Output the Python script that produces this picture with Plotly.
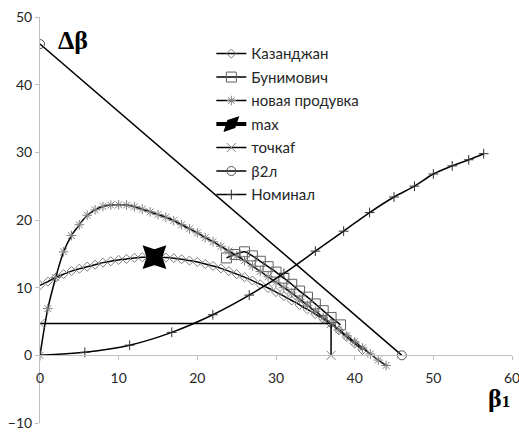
import plotly.graph_objects as go

# ---- data ----
kaz_x = list(range(0, 42))
kaz_y = [10.35, 10.9, 11.5, 12.0, 12.45, 12.8, 13.1, 13.4, 13.7, 13.9, 14.1, 14.25, 14.4, 14.5,
         14.5, 14.5, 14.45, 14.35, 14.2, 14.0, 13.8, 13.5, 13.2, 12.85, 12.45, 12.0, 11.55, 11.05,
         10.5, 9.95, 9.35, 8.75, 8.1, 7.45, 6.8, 6.1, 5.4, 4.7, 3.7, 2.7, 1.75, 0.8]

bun_x = [23.7, 24.8, 26.0, 27.0, 28.0, 29.0, 30.0, 31.0, 32.0, 33.0, 34.0, 35.0, 36.0, 37.0, 38.2]
bun_y = [14.4, 14.9, 15.3, 14.7, 13.9, 13.1, 12.3, 11.4, 10.5, 9.5, 8.6, 7.6, 6.6, 5.6, 4.5]

new_x = list(range(0, 45))
new_y = [0.0, 6.9, 11.5, 15.3, 17.7, 19.3, 20.7, 21.5, 22.0, 22.2, 22.25, 22.2, 21.95, 21.6, 21.2,
         20.8, 20.4, 19.9, 19.3, 18.7, 18.1, 17.4, 16.8, 16.1, 15.4, 14.7, 14.0, 13.2, 12.4, 11.6,
         10.8, 10.0, 9.2, 8.3, 7.4, 6.5, 5.6, 4.7, 3.8, 2.9, 2.0, 1.1, 0.2, -0.7, -1.5]

max_x = [14.55]
max_y = [14.5]

f_x = [0, 37, 37]
f_y = [4.7, 4.7, 0]

b2_x = [0, 46]
b2_y = [46, 0]

nom_x = [0, 5.7, 11.4, 16.75, 21.97, 26.6, 31.0, 35.0, 38.6, 41.9, 45.0, 47.6, 50.0, 52.4, 54.5, 56.4]
nom_y = [0, 0.44, 1.5, 3.4, 6.0, 8.9, 12.1, 15.4, 18.35, 21.1, 23.4, 25.0, 26.8, 28.0, 28.9, 29.8]

x_ticks = [0, 10, 20, 30, 40, 50, 60]
y_ticks = [-10, 0, 10, 20, 30, 40, 50]

# ---- figure ----
fig = go.Figure()
LC = "black"
MC = "#7f7f7f"

fig.add_trace(go.Scatter(x=kaz_x, y=kaz_y, name="Казанджан", mode="lines+markers", legendgroup="a",
                         line=dict(color=LC, width=1.5, shape="spline"),
                         marker=dict(symbol="diamond-open", size=7, color=MC, line=dict(width=1, color=MC))))
fig.add_trace(go.Scatter(x=bun_x, y=bun_y, name="Бунимович", mode="lines+markers", legendgroup="b",
                         line=dict(color=LC, width=1.5, shape="spline"),
                         marker=dict(symbol="square-open", size=10, color="#606060", line=dict(width=1, color="#606060"))))
fig.add_trace(go.Scatter(x=new_x, y=new_y, name="новая продувка", mode="lines+markers", legendgroup="c",
                         line=dict(color=LC, width=1.5, shape="spline"),
                         marker=dict(symbol="asterisk-open", size=8, color=MC, line=dict(width=1, color=MC))))
fig.add_trace(go.Scatter(x=max_x, y=max_y, name="max", mode="lines+markers", legendgroup="d",
                         line=dict(color=LC, width=4),
                         marker=dict(symbol="diamond-tall", size=24, angle=45, color="black")))
fig.add_trace(go.Scatter(x=max_x, y=max_y, name="max", mode="markers", showlegend=False, legendgroup="d",
                         marker=dict(symbol="diamond-tall", size=24, angle=-45, color="black")))
fig.add_trace(go.Scatter(x=f_x, y=f_y, name="точкаf", mode="lines+markers", legendgroup="e",
                         line=dict(color=LC, width=1.5),
                         marker=dict(symbol="x-thin-open", size=9, color=MC, line=dict(width=1, color=MC))))
fig.add_trace(go.Scatter(x=b2_x, y=b2_y, name="β2л", mode="lines+markers", legendgroup="f",
                         line=dict(color=LC, width=1.5),
                         marker=dict(symbol="circle-open", size=9, color="#505050", line=dict(width=1, color="#505050"))))
fig.add_trace(go.Scatter(x=nom_x, y=nom_y, name="Номинал", mode="lines+markers", legendgroup="g",
                         line=dict(color=LC, width=1.5, shape="spline"),
                         marker=dict(symbol="cross-thin-open", size=7, color="#303030", line=dict(width=1, color="#303030"))))

fig.add_annotation(x=4.2, y=46.6, xref="x", yref="y", text="<b>Δβ</b>", showarrow=False,
                   font=dict(family="Liberation Serif", size=26, color="black"))
fig.add_annotation(x=1.0, y=-6.4, xref="paper", yref="y", xanchor="right",
                   text="<b>β<span style='font-size:17px'>1</span></b>",
                   showarrow=False, font=dict(family="Liberation Serif", size=26, color="black"))

fig.update_layout(
    template="none",
    width=519, height=432,
    margin=dict(l=40, r=7, t=17, b=9),
    paper_bgcolor="white", plot_bgcolor="white",
    font=dict(family="Lato", size=14, color="#262626"),
    showlegend=True,
    legend=dict(x=0.363, y=0.95, xanchor="left", yanchor="top", bgcolor="rgba(0,0,0,0)",
                font=dict(family="Lato", size=15, color="#262626"), itemwidth=30, tracegroupgap=1),
    xaxis=dict(range=[0, 60], tickvals=x_ticks, showgrid=False, zeroline=False, automargin=False,
               showline=True, linecolor="#bfbfbf", linewidth=1, ticks="outside", ticklen=4,
               tickcolor="#bfbfbf", anchor="free", position=1/6, ticklabelstandoff=6,
               ticklabeloverflow="allow"),
    yaxis=dict(range=[-10, 50], tickvals=y_ticks, showgrid=False, zeroline=False, automargin=False,
               showline=True, linecolor="#bfbfbf", linewidth=1, ticks="outside", ticklen=4,
               tickcolor="#bfbfbf", ticklabeloverflow="allow"),
)

fig.write_html("out.html", config={"displayModeBar": False},
               post_script="document.body.style.margin='0';")
